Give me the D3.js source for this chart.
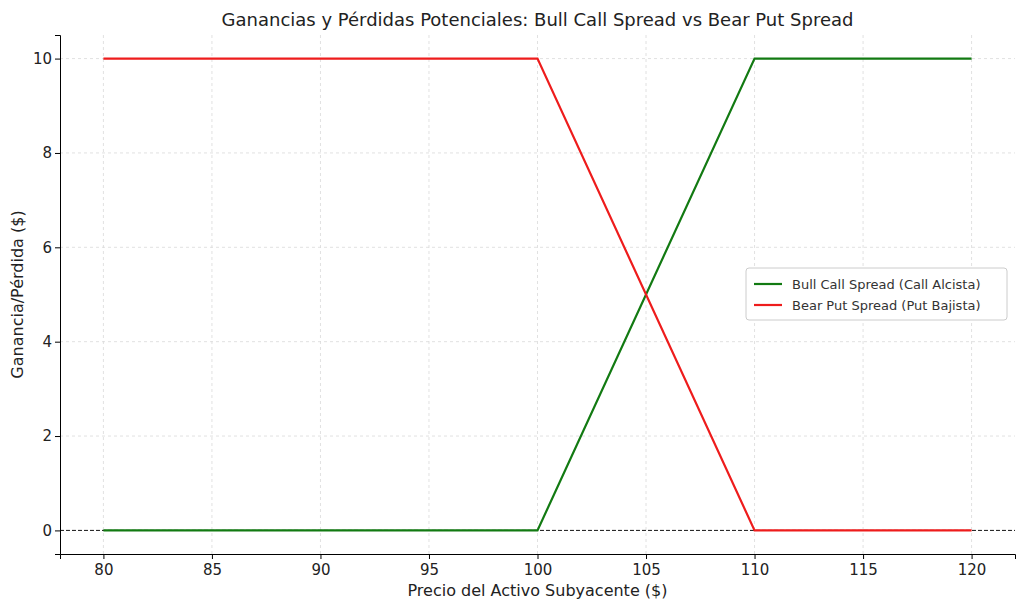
<!DOCTYPE html>
<html><head><meta charset="utf-8">
<script src="https://cdn.jsdelivr.net/npm/d3@7"></script>
<style>body{margin:0;background:#fff}text{font-family:"DejaVu Sans",sans-serif}</style>
</head><body><svg id="c" width="1024" height="610"></svg>
<script>
const precios = [80, 100, 110, 120]
const bullCall = [0, 0, 10, 10]
const bearPut = [10, 10, 0, 0]
const xTicks = [80, 85, 90, 95, 100, 105, 110, 115, 120]
const yTicks = [0, 2, 4, 6, 8, 10]

const svg = d3.select('#c')
const m = {left: 60, right: 1015, top: 35, bottom: 554}

const x = d3.scaleLinear().domain([78, 122]).range([m.left, m.right])
const y = d3.scaleLinear().domain([-0.5, 10.5]).range([m.bottom, m.top])

let grid = svg.append('g')
xTicks.forEach(t => grid.append('line').attr('x1', x(t)).attr('x2', x(t)).attr('y1', m.top).attr('y2', m.bottom))
yTicks.forEach(t => grid.append('line').attr('x1', m.left).attr('x2', m.right).attr('y1', y(t)).attr('y2', y(t)))
grid.selectAll('line').attr('stroke', '#d9d9d9').attr('stroke-width', 0.8).attr('stroke-dasharray', '3,3')

svg.append('line').attr('x1', m.left).attr('x2', m.right).attr('y1', y(0)).attr('y2', y(0))
.attr('stroke', '#000').attr('stroke-width', 0.9).attr('stroke-dasharray', '4,2')

svg.append('g').attr('transform', `translate(0,${m.bottom})`)
.call(d3.axisBottom(x).tickValues(xTicks).tickSizeOuter(0).tickSize(5))
.call(g => g.selectAll('text').attr('font-size', 15).attr('fill', '#222').attr('dy', '0.85em'))
svg.append('g').attr('transform', `translate(${m.left},0)`)
.call(d3.axisLeft(y).tickValues(yTicks).tickSizeOuter(0).tickSize(5))
.call(g => g.selectAll('text').attr('font-size', 15).attr('fill', '#222'))

const line = d3.line().x((d, i) => x(precios[i])).y(d => y(d))
svg.append('path').datum(bullCall).attr('d', line).attr('fill', 'none').attr('stroke', '#127a12').attr('stroke-width', 2.2)
svg.append('path').datum(bearPut).attr('d', line).attr('fill', 'none').attr('stroke', '#ee1c1c').attr('stroke-width', 2.2)

svg.append('text').attr('x', (m.left + m.right) / 2).attr('y', 26).attr('text-anchor', 'middle')
.attr('font-size', 18).attr('fill', '#222').text('Ganancias y Pérdidas Potenciales: Bull Call Spread vs Bear Put Spread')
svg.append('text').attr('x', (m.left + m.right) / 2).attr('y', 596).attr('text-anchor', 'middle')
.attr('font-size', 16).attr('fill', '#222').text('Precio del Activo Subyacente ($)')
svg.append('text').attr('transform', `translate(23,${(m.top + m.bottom) / 2}) rotate(-90)`).attr('text-anchor', 'middle')
.attr('font-size', 16).attr('fill', '#222').text('Ganancia/Pérdida ($)')

const lg = svg.append('g').attr('transform', 'translate(746,268)')
lg.append('rect').attr('width', 261).attr('height', 52).attr('rx', 3).attr('fill', '#fff').attr('stroke', '#ccc')
;[['Bull Call Spread (Call Alcista)', '#127a12'], ['Bear Put Spread (Put Bajista)', '#ee1c1c']].forEach((d, i) => {
  lg.append('line').attr('x1', 8).attr('x2', 36).attr('y1', 16 + i * 21).attr('y2', 16 + i * 21).attr('stroke', d[1]).attr('stroke-width', 2.2)
  lg.append('text').attr('x', 46).attr('y', 21 + i * 21).attr('font-size', 13).attr('fill', '#333').text(d[0])
})
</script></body></html>
